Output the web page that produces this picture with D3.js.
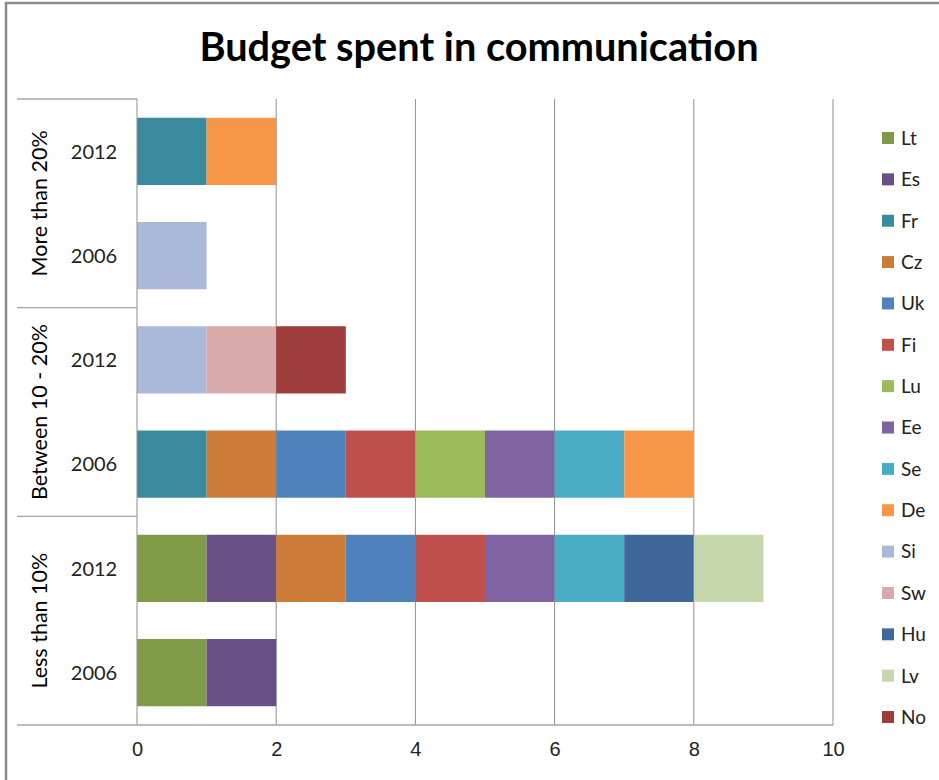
<!DOCTYPE html>
<html>
<head>
<meta charset="utf-8">
<script src="https://cdn.jsdelivr.net/npm/d3@7"></script>
<style>
  body { margin: 0; background: #fff; }
  svg { font-family: Lato, "Open Sans", sans-serif; }
  .tick text { font-size: 20px; fill: #222; }
</style>
</head>
<body>
<svg width="939" height="780"></svg>
<script>
const groups = ["Less than 10%", "Between 10 - 20%", "More than 20%"];
const years = ["2006", "2012"];
const countries = ["Lt", "Es", "Fr", "Cz", "Uk", "Fi", "Lu", "Ee", "Se", "De", "Si", "Sw", "Hu", "Lv", "No"];
const colors = ["#7F9B48", "#684F86", "#3A8B9E", "#CC7B38", "#4F81BD", "#C0504D", "#9BBB59",
                "#8064A2", "#4BACC6", "#F79646", "#AAB9D7", "#D9AAA9", "#3F689A", "#C6D6AD", "#9E3D3B"];
// one value per row: Less 2006, Less 2012, Between 2006, Between 2012, More 2006, More 2012
const values = {
  Lt: [1, 1, 0, 0, 0, 0],
  Es: [1, 1, 0, 0, 0, 0],
  Fr: [0, 0, 1, 0, 0, 1],
  Cz: [0, 1, 1, 0, 0, 0],
  Uk: [0, 1, 1, 0, 0, 0],
  Fi: [0, 1, 1, 0, 0, 0],
  Lu: [0, 0, 1, 0, 0, 0],
  Ee: [0, 1, 1, 0, 0, 0],
  Se: [0, 1, 1, 0, 0, 0],
  De: [0, 0, 1, 0, 0, 1],
  Si: [0, 0, 0, 1, 1, 0],
  Sw: [0, 0, 0, 1, 0, 0],
  Hu: [0, 1, 0, 0, 0, 0],
  Lv: [0, 1, 0, 0, 0, 0],
  No: [0, 0, 0, 1, 0, 0]
};
const xTicks = [0, 2, 4, 6, 8, 10];

const svg = d3.select("svg");

// chart frame
svg.append("path")
    .attr("d", "M6,790V3H945")
    .attr("fill", "none")
    .attr("stroke", "#8a8a8a")
    .attr("stroke-width", 2.5);

svg.append("text")
    .attr("x", 479)
    .attr("y", 61)
    .attr("text-anchor", "middle")
    .attr("font-size", 39.7)
    .attr("font-weight", "bold")
    .attr("fill", "#000")
    .text("Budget spent in communication");

const plotLeft = 137, plotRight = 833, plotTop = 99, plotBottom = 725, outerLeft = 17;

// rows, top to bottom
const rows = [];
groups.forEach((g, gi) => years.forEach((yr, yi) => rows.push({group: g, year: yr, idx: gi * 2 + yi})));
rows.reverse();

const table = rows.map(r => {
  const o = {key: r.group + "|" + r.year, group: r.group, year: r.year};
  countries.forEach(c => o[c] = values[c][r.idx]);
  return o;
});

const x = d3.scaleLinear().domain([0, 10]).range([plotLeft, plotRight]);
const y = d3.scaleBand().domain(table.map(d => d.key)).range([plotTop, plotBottom])
    .paddingInner(0.355).paddingOuter(0.18);
const color = d3.scaleOrdinal().domain(countries).range(colors);

const series = d3.stack().keys(countries)(table);

// gridlines
svg.append("g")
  .selectAll("line")
  .data(xTicks.slice(1))
  .join("line")
    .attr("x1", d => x(d)).attr("x2", d => x(d))
    .attr("y1", plotTop).attr("y2", plotBottom)
    .attr("stroke", "#8f8f8f")
    .attr("stroke-width", 1);

// bars
svg.append("g")
  .selectAll("g")
  .data(series)
  .join("g")
    .attr("fill", d => color(d.key))
  .selectAll("rect")
  .data(d => d.filter(s => s[1] > s[0]))
  .join("rect")
    .attr("x", d => x(d[0]))
    .attr("width", d => x(d[1]) - x(d[0]))
    .attr("y", d => y(d.data.key))
    .attr("height", y.bandwidth());

// x axis labels
const xAxis = svg.append("g")
    .attr("transform", `translate(0,${plotBottom})`)
    .call(d3.axisBottom(x).tickValues(xTicks).tickSize(0).tickPadding(17));
xAxis.select(".domain").remove();

// category axis lines
const bandH = (plotBottom - plotTop) / groups.length;
svg.append("line")
    .attr("x1", plotLeft).attr("x2", plotLeft).attr("y1", plotTop).attr("y2", plotBottom)
    .attr("stroke", "#8f8f8f");
svg.append("g")
  .selectAll("line")
  .data(d3.range(groups.length + 1))
  .join("line")
    .attr("x1", outerLeft).attr("x2", d => d === groups.length ? plotRight : plotLeft)
    .attr("y1", d => plotTop + d * bandH).attr("y2", d => plotTop + d * bandH)
    .attr("stroke", "#a6a6a6")
    .attr("stroke-width", 1.3);

// year labels
svg.append("g")
  .selectAll("text")
  .data(table)
  .join("text")
    .attr("x", 94)
    .attr("y", d => y(d.key) + y.bandwidth() / 2)
    .attr("dy", "0.36em")
    .attr("text-anchor", "middle")
    .attr("font-size", 20)
    .attr("fill", "#222")
    .text(d => d.year);

// group labels (rotated)
const groupsTopDown = groups.slice().reverse();
svg.append("g")
  .selectAll("text")
  .data(groupsTopDown)
  .join("text")
    .attr("transform", (d, i) => `translate(39,${plotTop + (i + 0.5) * bandH}) rotate(-90)`)
    .attr("dy", "0.36em")
    .attr("text-anchor", "middle")
    .attr("font-size", 21.5)
    .attr("fill", "#000")
    .text(d => d);

// legend
const legend = svg.append("g")
  .selectAll("g")
  .data(countries)
  .join("g")
    .attr("transform", (d, i) => `translate(882,${138 + i * 41.36})`);
legend.append("rect")
    .attr("y", -6)
    .attr("width", 12).attr("height", 12)
    .attr("fill", d => color(d));
legend.append("text")
    .attr("x", 19)
    .attr("dy", "0.36em")
    .attr("font-size", 19)
    .attr("fill", "#222")
    .text(d => d);
</script>
</body>
</html>
